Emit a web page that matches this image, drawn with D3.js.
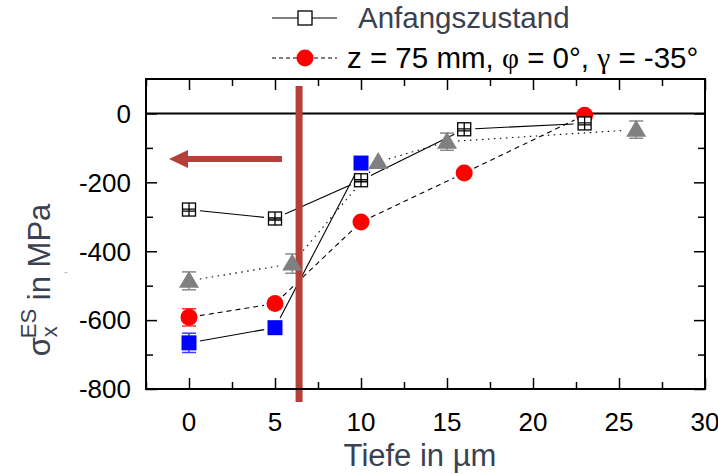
<!DOCTYPE html>
<html>
<head>
<meta charset="utf-8">
<script src="https://cdn.jsdelivr.net/npm/d3@7"></script>
<style>
  body { margin: 0; background: #fff; }
  svg { display: block; font-family: "Liberation Sans", Arial, sans-serif; }
</style>
</head>
<body>
<svg id="chart" width="718" height="474"></svg>
<script>
// values
var xTicks = [0, 5, 10, 15, 20, 25, 30];
var yTicks = [0, -200, -400, -600, -800];

var depthInit = [0, 5, 10, 16, 23];
var stressInit = [-279, -305, -194, -46, -29];

var depthRed = [0, 5, 10, 16, 23];
var stressRed = [-592, -552, -315, -173, -5];
var errRed = [25, 0, 0, 0, 0];

var depthBlue = [0, 5, 10];
var stressBlue = [-666, -622, -144];
var errBlue = [28, 0, 0];

var depthGray = [0, 6, 11, 15, 26];
var stressGray = [-486, -436, -141, -82, -47];
var errGray = [26, 28, 0, 25, 25];

var markDepth = 6.4;

var svg = d3.select("#chart");
var margin = {top: 79, right: 13, bottom: 85, left: 146};
var width = 718 - margin.left - margin.right;
var height = 474 - margin.top - margin.bottom;
var g = svg.append("g").attr("transform", "translate(" + margin.left + "," + margin.top + ")");

var x = d3.scaleLinear().domain([-2.5, 30]).range([0, width]);
var y = d3.scaleLinear().domain([-800, 100]).range([height, 0]);

var dark = "#3a4150";
var barRed = "#b5403a";

function pts(xs, ys) {
  return xs.map(function(d, i) { return {x: d, y: ys[i]}; });
}

// line segments with a gap around the markers
function segments(xs, ys, gap) {
  var out = [];
  for (var i = 1; i < xs.length; i++) {
    var x0 = x(xs[i - 1]), y0 = y(ys[i - 1]), x1 = x(xs[i]), y1 = y(ys[i]);
    var len = Math.sqrt((x1 - x0) * (x1 - x0) + (y1 - y0) * (y1 - y0));
    var ux = (x1 - x0) / len, uy = (y1 - y0) / len;
    out.push([x0 + ux * gap, y0 + uy * gap, x1 - ux * gap, y1 - uy * gap]);
  }
  return out;
}

function drawLine(xs, ys, dash) {
  g.append("g").selectAll("line")
    .data(segments(xs, ys, 11))
    .enter().append("line")
    .attr("x1", function(d) { return d[0]; })
    .attr("y1", function(d) { return d[1]; })
    .attr("x2", function(d) { return d[2]; })
    .attr("y2", function(d) { return d[3]; })
    .attr("stroke", "#000")
    .attr("stroke-width", 1.1)
    .attr("stroke-dasharray", dash);
}

function drawErr(xs, ys, es, color) {
  var data = pts(xs, ys).map(function(d, i) { d.e = es[i]; return d; })
    .filter(function(d) { return d.e > 0; });
  var eg = g.append("g").attr("stroke", color).attr("stroke-width", 1.5);
  eg.selectAll("line.v").data(data).enter().append("line")
    .attr("x1", function(d) { return x(d.x); })
    .attr("x2", function(d) { return x(d.x); })
    .attr("y1", function(d) { return y(d.y - d.e); })
    .attr("y2", function(d) { return y(d.y + d.e); });
  [1, -1].forEach(function(s) {
    eg.selectAll("line.c" + s).data(data).enter().append("line")
      .attr("x1", function(d) { return x(d.x) - 7; })
      .attr("x2", function(d) { return x(d.x) + 7; })
      .attr("y1", function(d) { return y(d.y + s * d.e); })
      .attr("y2", function(d) { return y(d.y + s * d.e); });
  });
}

// zero line
g.append("line")
  .attr("x1", 0).attr("x2", width)
  .attr("y1", y(0)).attr("y2", y(0))
  .attr("stroke", "#000").attr("stroke-width", 2);

drawLine(depthInit, stressInit, null);
drawLine(depthBlue, stressBlue, null);
drawLine(depthRed, stressRed, "5,4");
drawLine(depthGray, stressGray, "1.5,4.5");

drawErr(depthBlue, stressBlue, errBlue, "#3a3aff");
drawErr(depthRed, stressRed, errRed, "#ff3030");
drawErr(depthGray, stressGray, errGray, "#8a8a8a");

// red marker bar + arrow
g.append("rect")
  .attr("x", x(markDepth) - 3.5)
  .attr("y", 7)
  .attr("width", 7)
  .attr("height", height + 13 - 7)
  .attr("fill", barRed);

var ay = 80;
g.append("line")
  .attr("x1", 136).attr("x2", 38)
  .attr("y1", ay).attr("y2", ay)
  .attr("stroke", barRed).attr("stroke-width", 6);
g.append("path")
  .attr("d", "M" + 23 + "," + ay + "L" + 42 + "," + (ay - 9) + "L" + 42 + "," + (ay + 9) + "Z")
  .attr("fill", barRed);

// markers
g.append("g").selectAll("rect")
  .data(pts(depthBlue, stressBlue))
  .enter().append("rect")
  .attr("x", function(d) { return x(d.x) - 7.5; })
  .attr("y", function(d) { return y(d.y) - 7.5; })
  .attr("width", 15).attr("height", 15)
  .attr("fill", "#0000ff");

g.append("g").selectAll("path")
  .data(pts(depthGray, stressGray))
  .enter().append("path")
  .attr("transform", function(d) { return "translate(" + x(d.x) + "," + y(d.y) + ")"; })
  .attr("d", "M0,-10L10,7L-10,7Z")
  .attr("fill", "#808080");

g.append("g").selectAll("circle")
  .data(pts(depthRed, stressRed))
  .enter().append("circle")
  .attr("cx", function(d) { return x(d.x); })
  .attr("cy", function(d) { return y(d.y); })
  .attr("r", 8.5)
  .attr("fill", "#ff0000");

var sq = g.append("g").selectAll("g")
  .data(pts(depthInit, stressInit))
  .enter().append("g")
  .attr("transform", function(d) { return "translate(" + x(d.x) + "," + y(d.y) + ")"; })
  .attr("stroke", "#000").attr("stroke-width", 1.3);
sq.append("rect").attr("x", -6.5).attr("y", -6.5).attr("width", 13).attr("height", 13).attr("fill", "#fff");
sq.append("path").attr("d", "M0,-6.5V6.5M-6.5,-0.5H6.5M-6.5,1.5H6.5").attr("fill", "none");

// frame and ticks (inward, all four sides)
function tickAxis(axis, tr) {
  var a = g.append("g").attr("transform", tr || null).call(axis);
  a.select(".domain").remove();
  a.selectAll("line").attr("stroke", "#000").attr("stroke-width", 1.5);
  return a;
}
var xMinor = d3.range(-2.5, 30.1, 2.5).filter(function(v) { return v % 5 !== 0; });
var yMinor = d3.range(-700, 100, 200);

tickAxis(d3.axisTop(x).tickValues(xTicks).tickSize(11).tickFormat(""), "translate(0," + height + ")");
tickAxis(d3.axisTop(x).tickValues(xMinor).tickSize(7).tickFormat(""), "translate(0," + height + ")");
tickAxis(d3.axisBottom(x).tickValues(xTicks).tickSize(11).tickFormat(""));
tickAxis(d3.axisBottom(x).tickValues(xMinor).tickSize(7).tickFormat(""));
tickAxis(d3.axisRight(y).tickValues(yTicks).tickSize(11).tickFormat(""));
tickAxis(d3.axisRight(y).tickValues(yMinor).tickSize(7).tickFormat(""));
tickAxis(d3.axisLeft(y).tickValues(yTicks).tickSize(11).tickFormat(""), "translate(" + width + ",0)");
tickAxis(d3.axisLeft(y).tickValues(yMinor).tickSize(7).tickFormat(""), "translate(" + width + ",0)");

g.append("rect")
  .attr("width", width).attr("height", height)
  .attr("fill", "none").attr("stroke", "#000").attr("stroke-width", 2);

// tick labels
g.append("g").selectAll("text")
  .data(xTicks)
  .enter().append("text")
  .attr("x", function(d) { return x(d); })
  .attr("y", height + 42)
  .attr("text-anchor", "middle")
  .attr("font-size", 26)
  .attr("fill", "#000")
  .text(function(d) { return d; });

g.append("g").selectAll("text")
  .data(yTicks)
  .enter().append("text")
  .attr("x", -15)
  .attr("y", function(d) { return y(d); })
  .attr("dy", "0.36em")
  .attr("text-anchor", "end")
  .attr("font-size", 26)
  .attr("fill", "#000")
  .text(function(d) { return d; });

// axis titles
svg.append("text")
  .attr("x", 420).attr("y", 466)
  .attr("text-anchor", "middle")
  .attr("font-size", 31)
  .attr("fill", dark)
  .text("Tiefe in µm");

var yl = svg.append("text")
  .attr("transform", "translate(50,280) rotate(-90)")
  .attr("text-anchor", "middle")
  .attr("font-size", 31)
  .attr("fill", dark);
yl.append("tspan").text("σ");
yl.append("tspan").attr("font-size", 22).attr("dy", 7).text("x");
yl.append("tspan").attr("font-size", 22).attr("dx", -12).attr("dy", -21).text("ES");
yl.append("tspan").attr("dy", 14).text(" in MPa");

svg.append("text")
  .attr("x", 64).attr("y", 279)
  .attr("font-size", 9)
  .attr("fill", "#888")
  .text("\u02dd");

// legend
var lg = svg.append("g");
lg.append("line").attr("x1", 272).attr("x2", 337).attr("y1", 18).attr("y2", 18)
  .attr("stroke", "#000").attr("stroke-width", 1.1);
lg.append("rect").attr("x", 298).attr("y", 11).attr("width", 14).attr("height", 14)
  .attr("fill", "#fff").attr("stroke", "#000").attr("stroke-width", 1.3);
lg.append("text").attr("x", 358).attr("y", 28)
  .attr("font-size", 29.5).attr("fill", dark)
  .text("Anfangszustand");

lg.append("line").attr("x1", 272).attr("x2", 337).attr("y1", 58).attr("y2", 58)
  .attr("stroke", "#000").attr("stroke-width", 1.1).attr("stroke-dasharray", "4,3");
lg.append("circle").attr("cx", 305).attr("cy", 58).attr("r", 8.5).attr("fill", "#ff0000");
var lt = lg.append("text").attr("x", 347).attr("y", 68)
  .attr("font-size", 29.5).attr("fill", "#000");
lt.append("tspan").text("z = 75 mm, ");
lt.append("tspan").attr("font-family", "Liberation Serif, serif").text("φ");
lt.append("tspan").text(" = 0°, ");
lt.append("tspan").attr("font-family", "Liberation Serif, serif").text("γ");
lt.append("tspan").text(" = -35°");
</script>
</body>
</html>
